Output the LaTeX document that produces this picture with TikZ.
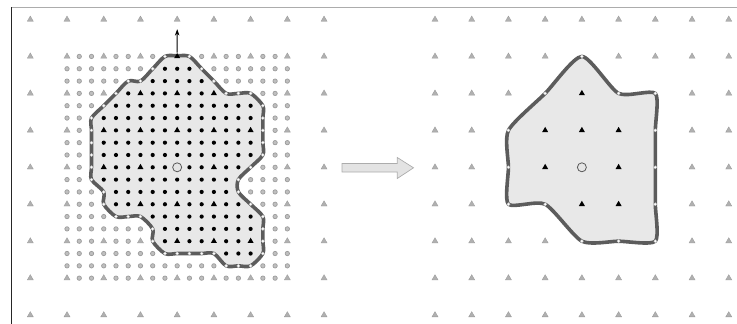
\documentclass[tikz,border=0pt]{standalone}
\usetikzlibrary{shapes.geometric,arrows.meta}
\tikzset{
  gtri/.style={regular polygon, regular polygon sides=3, inner sep=0pt, minimum size=7pt, fill=gray!62, draw=gray!80, line width=0.3pt},
  btri/.style={regular polygon, regular polygon sides=3, inner sep=0pt, minimum size=7pt, fill=black},
  gdot/.style={circle, inner sep=0pt, minimum size=4.4pt, fill=gray!50, draw=gray!78, line width=0.7pt},
  bdot/.style={circle, inner sep=0pt, minimum size=4.2pt, fill=black},
  wdot/.style={circle, inner sep=0pt, minimum size=3.2pt, fill=white, draw=gray!50, line width=0.3pt},
  ctr/.style={circle, inner sep=0pt, minimum size=9pt, fill=gray!20, draw=gray!70!black, line width=0.8pt},
  region/.style={fill=gray!18, draw=black!64, line width=3.6pt, line join=round},
  normalvec/.style={line width=0.9pt, -{Stealth[length=6.5pt, width=4.5pt]}},
  bigarrow/.style={fill=gray!22, draw=gray!65, line width=0.7pt},
}
\begin{document}
\begin{tikzpicture}[x=1pt,y=-1pt]
\useasboundingbox (0,0) rectangle (737,324);
% frame
\draw[gray!65, line width=1.4pt] (11.5,7.7) -- (740,7.7);
\draw[black!85, line width=1.4pt] (11.7,7) -- (11.7,330);

% ---------- left: refined patch ----------
\begin{scope}[shift={(30.3,19.5)}, x=36.72pt, y=-36.95pt]
  \foreach \i in {0,...,8} \foreach \j in {0,...,8} {
    \pgfmathtruncatemacro\qIn{(\i>0)&&(\i<8)&&(\j>0)&&(\j<8)}
    \ifnum\qIn=0 \node[gtri] (LC-\i-\j) at (\i,\j) {}; \fi
  }
  \coordinate (ntip) at (4,0.26);
  \begin{scope}[shift={(1,1)}, x=12.24pt, y=-12.317pt]
    \draw[region] plot[smooth cycle, tension=0.5] coordinates {
      (8,0) (9,-0.05) (10,0) (11,1) (12,2) (13,3) (14,3) (15,3) (16,4) (16,5) (16,6)
      (16,7) (16,8) (15,9) (14,10) (14,11) (15,12) (16,13) (16,14) (16,15) (16,16)
      (15,17) (14,17) (13,17) (12,16) (11,16) (10,16) (9,16) (8,16) (7,15) (7,14)
      (6,13) (5,13) (4,13) (3,12) (3,11) (2,10) (2,9) (2,8) (2,7) (2,6) (2,5) (3,4)
      (4,3) (5,2) (6,2) (7,1)};
    % row / outer limits / inner range
    \foreach \m/\L/\R/\a/\b in {0/8/10/9/9, 1/7/11/8/10, 2/5/12/7/11, 3/4/15/5/12,
        4/3/16/4/15, 5/2/16/3/15, 6/2/16/3/15, 7/2/16/3/15, 8/2/16/3/15,
        9/2/15/3/14, 10/2/14/3/13, 11/3/14/4/13, 12/3/15/4/14, 13/4/16/7/15,
        14/7/16/8/15, 15/7/16/8/15, 16/8/16/13/15, 17/13/15/1/0, 18/19/-1/1/0} {
      \foreach \k in {0,...,18} {
        \pgfmathtruncatemacro\qTri{(mod(\k,3)==0)&&(mod(\m,3)==0)}
        \pgfmathtruncatemacro\qIns{(\k>=\a)&&(\k<=\b)&&!((\k==9)&&(\m==9))}
        \pgfmathtruncatemacro\qOut{(\k<\L)||(\k>\R)}
        \ifnum\qIns=1
          \ifnum\qTri=1 \node[btri] (L-\k-\m) at (\k,\m) {};
          \else \node[bdot] (L-\k-\m) at (\k,\m) {}; \fi
        \fi
        \ifnum\qOut=1
          \ifnum\qTri=1 \node[gtri] (L-\k-\m) at (\k,\m) {};
          \else \node[gdot] (L-\k-\m) at (\k,\m) {}; \fi
        \fi
      }
    }
    \foreach \k/\m in {8/0, 10/0, 11/1, 12/2, 13/3, 14/3, 15/3, 16/4, 16/5, 16/6,
        16/7, 16/8, 15/9, 14/10, 14/11, 15/12, 16/13, 16/14, 16/15, 16/16, 15/17,
        14/17, 13/17, 12/16, 11/16, 10/16, 9/16, 8/16, 7/15, 7/14, 6/13, 5/13, 4/13,
        3/12, 3/11, 2/10, 2/9, 2/8, 2/7, 2/6, 2/5, 3/4, 4/3, 5/2, 6/2, 7/1}
      \node[wdot] (L-\k-\m) at (\k,\m) {};
    \node[ctr] (Lctr) at (9,9) {};
  \end{scope}
\end{scope}
\draw[normalvec] (L-9-0.north) -- (ntip);

% ---------- middle arrow ----------
\draw[bigarrow] (342,163.5) -- (397.3,163.5) -- (397.3,157.5) -- (413.5,167.8)
  -- (397.3,178.5) -- (397.3,172) -- (342,172) -- cycle;

% ---------- right: coarse patch ----------
\begin{scope}[shift={(435,19.5)}, x=36.72pt, y=-36.95pt]
  \draw[region] plot[smooth cycle, tension=0.4] coordinates {
    (4,1) (5,2) (6,2) (6,3) (6,4) (6,5) (6,6) (5,6) (4,6) (3,5) (2,5) (2,4) (2,3) (3,2)};
  \foreach \j/\L/\R/\a/\b in {0/9/-1/1/0, 1/4/4/1/0, 2/3/6/4/4, 3/2/6/3/5,
      4/2/6/3/5, 5/2/6/4/5, 6/4/6/1/0, 7/9/-1/1/0, 8/9/-1/1/0} {
    \foreach \i in {0,...,8} {
      \pgfmathtruncatemacro\qIns{(\i>=\a)&&(\i<=\b)&&!((\i==4)&&(\j==4))}
      \pgfmathtruncatemacro\qOut{(\i<\L)||(\i>\R)}
      \ifnum\qIns=1 \node[btri] (R-\i-\j) at (\i,\j) {}; \fi
      \ifnum\qOut=1 \node[gtri] (R-\i-\j) at (\i,\j) {}; \fi
    }
  }
  \foreach \i/\j in {4/1, 5/2, 6/2, 6/3, 6/4, 6/5, 6/6, 5/6, 4/6, 3/5, 2/5, 2/4, 2/3, 3/2}
    \node[wdot] (R-\i-\j) at (\i,\j) {};
  \node[ctr] (Rctr) at (4,4) {};
\end{scope}
\end{tikzpicture}
\end{document}
